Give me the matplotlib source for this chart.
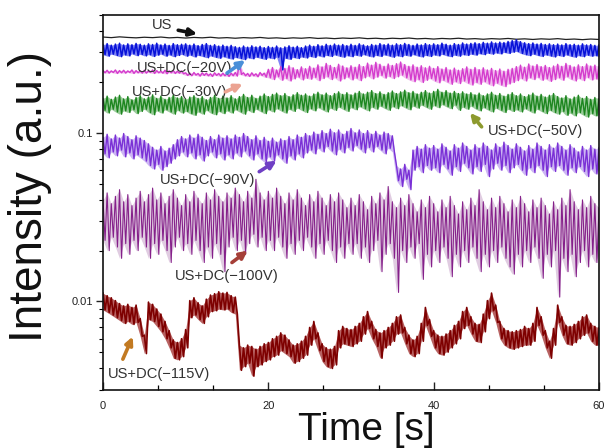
import numpy as np
import matplotlib
matplotlib.use("Agg")
import matplotlib.pyplot as plt
from matplotlib.ticker import FixedLocator, MultipleLocator, LogLocator, NullFormatter

plt.rcParams['font.family'] = ['Liberation Sans', 'DejaVu Sans']

# ---------------- data (intensity, a.u.) ----------------
# US: single trace, one value per second
us = [0.370, 0.367, 0.371, 0.368, 0.366, 0.369, 0.367, 0.370, 0.366, 0.368, 0.365, 0.368, 0.366, 0.369, 0.365,
      0.367, 0.364, 0.367, 0.365, 0.368, 0.364, 0.366, 0.363, 0.366, 0.364, 0.367, 0.363, 0.365, 0.362, 0.365,
      0.363, 0.366, 0.362, 0.364, 0.361, 0.364, 0.362, 0.365, 0.361, 0.363, 0.360, 0.363, 0.361, 0.364, 0.360,
      0.362, 0.359, 0.362, 0.360, 0.363, 0.359, 0.361, 0.358, 0.361, 0.359, 0.362, 0.358, 0.360, 0.357, 0.360, 0.358]

# noisy traces: local maxima (hi) and minima (lo) read every 0.5 s
dc20_hi = [0.334, 0.338, 0.331, 0.336, 0.340, 0.332, 0.337, 0.333, 0.339, 0.335,
           0.331, 0.337, 0.334, 0.340, 0.332, 0.336, 0.330, 0.338, 0.333, 0.335,
           0.337, 0.331, 0.336, 0.329, 0.334, 0.338, 0.330, 0.333, 0.327, 0.331,
           0.326, 0.330, 0.324, 0.321, 0.327, 0.322, 0.328, 0.323, 0.326, 0.320,
           0.325, 0.321, 0.327, 0.319, 0.323, 0.328, 0.322, 0.326, 0.320, 0.327,
           0.331, 0.326, 0.333, 0.328, 0.335, 0.330, 0.336, 0.331, 0.334, 0.329,
           0.335, 0.330, 0.337, 0.332, 0.328, 0.334, 0.331, 0.338, 0.333, 0.336,
           0.331, 0.337, 0.333, 0.339, 0.334, 0.330, 0.336, 0.332, 0.338, 0.333,
           0.337, 0.333, 0.340, 0.335, 0.331, 0.338, 0.334, 0.341, 0.336, 0.339,
           0.342, 0.338, 0.344, 0.340, 0.346, 0.341, 0.345, 0.343, 0.348, 0.352,
           0.356, 0.347, 0.342, 0.338, 0.341, 0.336, 0.339, 0.334, 0.337, 0.333,
           0.336, 0.332, 0.338, 0.333, 0.335, 0.331, 0.337, 0.332, 0.334, 0.330,
           0.333]
dc20_lo = [0.291, 0.285, 0.293, 0.288, 0.283, 0.290, 0.286, 0.294, 0.287, 0.292,
           0.286, 0.291, 0.284, 0.289, 0.293, 0.285, 0.290, 0.283, 0.288, 0.292,
           0.285, 0.289, 0.282, 0.288, 0.284, 0.279, 0.286, 0.281, 0.277, 0.283,
           0.278, 0.274, 0.280, 0.276, 0.272, 0.279, 0.275, 0.281, 0.277, 0.273,
           0.279, 0.275, 0.281, 0.236, 0.277, 0.273, 0.280, 0.276, 0.282, 0.278,
           0.284, 0.280, 0.287, 0.282, 0.288, 0.284, 0.290, 0.285, 0.281, 0.287,
           0.283, 0.289, 0.285, 0.291, 0.286, 0.282, 0.288, 0.284, 0.290, 0.286,
           0.281, 0.287, 0.283, 0.289, 0.285, 0.291, 0.286, 0.282, 0.288, 0.284,
           0.290, 0.286, 0.292, 0.287, 0.283, 0.289, 0.285, 0.291, 0.288, 0.293,
           0.289, 0.295, 0.291, 0.297, 0.293, 0.298, 0.294, 0.300, 0.296, 0.301,
           0.304, 0.296, 0.291, 0.287, 0.293, 0.288, 0.284, 0.290, 0.286, 0.282,
           0.288, 0.284, 0.290, 0.285, 0.281, 0.287, 0.283, 0.289, 0.285, 0.287,
           0.284]

dc30_hi = [0.234, 0.235, 0.233, 0.236, 0.234, 0.235, 0.233, 0.236, 0.234, 0.233,
           0.235, 0.233, 0.236, 0.234, 0.232, 0.235, 0.233, 0.234, 0.232, 0.233,
           0.227, 0.226, 0.228, 0.225, 0.227, 0.226, 0.224, 0.227, 0.225, 0.226,
           0.224, 0.226, 0.228, 0.262, 0.227, 0.225, 0.227, 0.224, 0.228, 0.226,
           0.238, 0.244, 0.236, 0.247, 0.241, 0.250, 0.243, 0.237, 0.246, 0.240,
           0.248, 0.242, 0.253, 0.246, 0.258, 0.251, 0.244, 0.255, 0.249, 0.243,
           0.250, 0.245, 0.254, 0.247, 0.259, 0.252, 0.262, 0.255, 0.248, 0.256,
           0.251, 0.257, 0.263, 0.254, 0.248, 0.253, 0.245, 0.250, 0.243, 0.248,
           0.241, 0.247, 0.239, 0.244, 0.236, 0.242, 0.235, 0.240, 0.246, 0.238,
           0.244, 0.237, 0.243, 0.236, 0.241, 0.234, 0.239, 0.232, 0.238, 0.241,
           0.247, 0.252, 0.245, 0.256, 0.249, 0.254, 0.247, 0.251, 0.244, 0.249,
           0.255, 0.248, 0.258, 0.251, 0.246, 0.253, 0.247, 0.256, 0.249, 0.252,
           0.248]
dc30_lo = [0.227, 0.226, 0.228, 0.225, 0.227, 0.226, 0.228, 0.225, 0.227, 0.226,
           0.226, 0.228, 0.225, 0.227, 0.226, 0.224, 0.227, 0.225, 0.226, 0.224,
           0.219, 0.218, 0.220, 0.217, 0.219, 0.218, 0.216, 0.219, 0.217, 0.218,
           0.216, 0.218, 0.217, 0.222, 0.218, 0.216, 0.218, 0.215, 0.219, 0.214,
           0.212, 0.207, 0.215, 0.205, 0.210, 0.203, 0.209, 0.214, 0.206, 0.211,
           0.208, 0.213, 0.204, 0.210, 0.215, 0.207, 0.212, 0.203, 0.209, 0.214,
           0.206, 0.211, 0.204, 0.212, 0.217, 0.209, 0.214, 0.219, 0.211, 0.216,
           0.210, 0.215, 0.220, 0.212, 0.206, 0.201, 0.207, 0.199, 0.205, 0.210,
           0.203, 0.198, 0.205, 0.200, 0.194, 0.201, 0.196, 0.203, 0.197, 0.192,
           0.199, 0.194, 0.201, 0.195, 0.190, 0.197, 0.192, 0.188, 0.195, 0.199,
           0.204, 0.210, 0.203, 0.212, 0.207, 0.213, 0.205, 0.209, 0.202, 0.207,
           0.212, 0.205, 0.215, 0.208, 0.203, 0.210, 0.204, 0.213, 0.206, 0.209,
           0.205]

dc50_hi = [0.160, 0.165, 0.158, 0.163, 0.167, 0.159, 0.164, 0.157, 0.162, 0.166,
           0.159, 0.163, 0.168, 0.160, 0.165, 0.158, 0.162, 0.167, 0.161, 0.164,
           0.158, 0.163, 0.166, 0.160, 0.164, 0.157, 0.162, 0.167, 0.160, 0.165,
           0.161, 0.166, 0.159, 0.164, 0.169, 0.162, 0.167, 0.160, 0.165, 0.170,
           0.164, 0.169, 0.172, 0.166, 0.171, 0.164, 0.168, 0.173, 0.167, 0.170,
           0.165, 0.170, 0.174, 0.168, 0.172, 0.166, 0.171, 0.175, 0.169, 0.173,
           0.168, 0.172, 0.176, 0.170, 0.174, 0.178, 0.171, 0.175, 0.169, 0.173,
           0.177, 0.171, 0.175, 0.179, 0.173, 0.176, 0.170, 0.174, 0.178, 0.172,
           0.176, 0.181, 0.174, 0.178, 0.172, 0.176, 0.171, 0.175, 0.170, 0.173,
           0.168, 0.172, 0.166, 0.170, 0.174, 0.167, 0.171, 0.165, 0.169, 0.173,
           0.166, 0.170, 0.164, 0.168, 0.172, 0.165, 0.169, 0.163, 0.167, 0.171,
           0.164, 0.161, 0.166, 0.159, 0.163, 0.167, 0.160, 0.164, 0.158, 0.162,
           0.160]
dc50_lo = [0.136, 0.131, 0.138, 0.133, 0.129, 0.135, 0.132, 0.137, 0.130, 0.134,
           0.138, 0.132, 0.128, 0.135, 0.131, 0.137, 0.133, 0.129, 0.136, 0.131,
           0.134, 0.130, 0.127, 0.133, 0.129, 0.136, 0.131, 0.128, 0.134, 0.130,
           0.135, 0.131, 0.137, 0.133, 0.129, 0.136, 0.132, 0.138, 0.134, 0.130,
           0.137, 0.133, 0.139, 0.135, 0.131, 0.138, 0.134, 0.140, 0.136, 0.132,
           0.139, 0.135, 0.141, 0.137, 0.133, 0.140, 0.136, 0.142, 0.138, 0.134,
           0.141, 0.137, 0.143, 0.139, 0.135, 0.142, 0.138, 0.144, 0.140, 0.136,
           0.143, 0.139, 0.145, 0.141, 0.137, 0.144, 0.140, 0.146, 0.142, 0.138,
           0.145, 0.141, 0.147, 0.143, 0.139, 0.146, 0.136, 0.142, 0.138, 0.144,
           0.139, 0.135, 0.141, 0.137, 0.133, 0.140, 0.136, 0.132, 0.138, 0.134,
           0.137, 0.133, 0.139, 0.135, 0.131, 0.138, 0.134, 0.130, 0.136, 0.132,
           0.129, 0.134, 0.127, 0.131, 0.126, 0.132, 0.128, 0.124, 0.130, 0.126,
           0.128]

dc90_hi = [0.094, 0.098, 0.092, 0.097, 0.093, 0.099, 0.095, 0.091, 0.096, 0.093,
           0.090, 0.086, 0.082, 0.079, 0.083, 0.078, 0.081, 0.085, 0.091, 0.095,
           0.092, 0.097, 0.093, 0.098, 0.094, 0.090, 0.095, 0.091, 0.097, 0.093,
           0.096, 0.092, 0.097, 0.094, 0.099, 0.095, 0.091, 0.096, 0.090, 0.094,
           0.089, 0.093, 0.088, 0.092, 0.090, 0.095, 0.091, 0.097, 0.094, 0.099,
           0.096, 0.101, 0.098, 0.103, 0.099, 0.105, 0.100, 0.104, 0.098, 0.102,
           0.106, 0.100, 0.104, 0.099, 0.103, 0.098, 0.102, 0.097, 0.101, 0.099,
           0.096, 0.064, 0.061, 0.065, 0.060, 0.079, 0.083, 0.080, 0.085, 0.081,
           0.084, 0.080, 0.086, 0.082, 0.078, 0.085, 0.081, 0.087, 0.083, 0.079,
           0.085, 0.081, 0.087, 0.083, 0.079, 0.086, 0.082, 0.088, 0.084, 0.080,
           0.086, 0.082, 0.078, 0.084, 0.080, 0.087, 0.083, 0.079, 0.085, 0.081,
           0.087, 0.083, 0.079, 0.085, 0.081, 0.077, 0.083, 0.079, 0.084, 0.080,
           0.082]
dc90_lo = [0.075, 0.071, 0.077, 0.073, 0.079, 0.072, 0.076, 0.070, 0.074, 0.071,
           0.068, 0.064, 0.061, 0.065, 0.060, 0.063, 0.066, 0.070, 0.073, 0.077,
           0.072, 0.076, 0.070, 0.074, 0.068, 0.073, 0.077, 0.071, 0.075, 0.069,
           0.074, 0.070, 0.076, 0.072, 0.078, 0.073, 0.069, 0.075, 0.070, 0.067,
           0.072, 0.068, 0.074, 0.070, 0.066, 0.073, 0.069, 0.075, 0.071, 0.076,
           0.079, 0.075, 0.081, 0.077, 0.083, 0.078, 0.074, 0.080, 0.076, 0.082,
           0.078, 0.084, 0.080, 0.076, 0.082, 0.077, 0.083, 0.079, 0.075, 0.081,
           0.077, 0.052, 0.048, 0.053, 0.046, 0.060, 0.063, 0.058, 0.064, 0.060,
           0.062, 0.058, 0.065, 0.061, 0.056, 0.063, 0.059, 0.066, 0.062, 0.057,
           0.063, 0.059, 0.065, 0.055, 0.061, 0.066, 0.060, 0.064, 0.058, 0.062,
           0.065, 0.060, 0.056, 0.062, 0.058, 0.064, 0.060, 0.055, 0.063, 0.059,
           0.064, 0.060, 0.056, 0.062, 0.058, 0.063, 0.059, 0.055, 0.061, 0.057,
           0.060]

dc100_hi = [0.040, 0.044, 0.038, 0.042, 0.046, 0.039, 0.043, 0.037, 0.041, 0.045,
            0.039, 0.043, 0.047, 0.040, 0.044, 0.038, 0.042, 0.046, 0.041, 0.037,
            0.043, 0.039, 0.045, 0.041, 0.038, 0.044, 0.040, 0.046, 0.042, 0.039,
            0.044, 0.041, 0.047, 0.043, 0.039, 0.045, 0.041, 0.053, 0.044, 0.040,
            0.045, 0.041, 0.047, 0.042, 0.038, 0.044, 0.040, 0.046, 0.041, 0.037,
            0.043, 0.039, 0.045, 0.041, 0.037, 0.043, 0.039, 0.044, 0.040, 0.036,
            0.041, 0.037, 0.043, 0.039, 0.035, 0.042, 0.038, 0.044, 0.040, 0.048,
            0.039, 0.036, 0.041, 0.037, 0.043, 0.038, 0.034, 0.040, 0.036, 0.042,
            0.038, 0.034, 0.040, 0.036, 0.042, 0.037, 0.033, 0.039, 0.035, 0.041,
            0.037, 0.046, 0.039, 0.035, 0.041, 0.036, 0.042, 0.038, 0.034, 0.040,
            0.036, 0.042, 0.038, 0.034, 0.040, 0.036, 0.041, 0.037, 0.033, 0.039,
            0.035, 0.041, 0.037, 0.046, 0.039, 0.035, 0.040, 0.036, 0.042, 0.038,
            0.036]
dc100_lo = [0.023, 0.020, 0.024, 0.021, 0.018, 0.022, 0.019, 0.023, 0.020, 0.024,
            0.021, 0.018, 0.022, 0.019, 0.023, 0.020, 0.017, 0.021, 0.024, 0.020,
            0.022, 0.019, 0.023, 0.020, 0.017, 0.021, 0.018, 0.022, 0.019, 0.015,
            0.021, 0.024, 0.020, 0.023, 0.019, 0.022, 0.025, 0.021, 0.024, 0.020,
            0.023, 0.020, 0.024, 0.021, 0.018, 0.022, 0.019, 0.023, 0.020, 0.024,
            0.021, 0.018, 0.022, 0.019, 0.023, 0.020, 0.017, 0.021, 0.018, 0.022,
            0.019, 0.022, 0.018, 0.021, 0.017, 0.020, 0.023, 0.015, 0.019, 0.022,
            0.018, 0.0113, 0.020, 0.017, 0.021, 0.018, 0.022, 0.0135, 0.019, 0.016,
            0.020, 0.017, 0.021, 0.018, 0.0140, 0.019, 0.016, 0.020, 0.017, 0.021,
            0.018, 0.015, 0.019, 0.016, 0.020, 0.017, 0.021, 0.018, 0.016, 0.0145,
            0.019, 0.016, 0.020, 0.017, 0.021, 0.018, 0.0137, 0.019, 0.016, 0.020,
            0.0106, 0.018, 0.015, 0.019, 0.0140, 0.017, 0.020, 0.016, 0.019, 0.017,
            0.019]

dc115_hi = [0.0112, 0.0108, 0.0105, 0.0101, 0.0097, 0.0094, 0.0096, 0.0092, 0.0095, 0.0079,
            0.0063, 0.0099, 0.0096, 0.0090, 0.0084, 0.0076, 0.0067, 0.0059, 0.0057, 0.0060,
            0.0068, 0.0101, 0.0105, 0.0098, 0.0094, 0.0103, 0.0109, 0.0111, 0.0114, 0.0112,
            0.0113, 0.0108, 0.0106, 0.0055, 0.0053, 0.0055, 0.0054, 0.0052, 0.0054, 0.0056,
            0.0057, 0.0060, 0.0062, 0.0065, 0.0063, 0.0059, 0.0055, 0.0056, 0.0058, 0.0062,
            0.0070, 0.0076, 0.0065, 0.0056, 0.0053, 0.0052, 0.0054, 0.0067, 0.0071, 0.0069,
            0.0068, 0.0071, 0.0074, 0.0081, 0.0087, 0.0076, 0.0068, 0.0065, 0.0067, 0.0070,
            0.0074, 0.0081, 0.0083, 0.0070, 0.0063, 0.0059, 0.0062, 0.0074, 0.0092, 0.0078,
            0.0067, 0.0063, 0.0062, 0.0064, 0.0067, 0.0072, 0.0076, 0.0087, 0.0092, 0.0081,
            0.0074, 0.0073, 0.0084, 0.0101, 0.0112, 0.0095, 0.0076, 0.0069, 0.0067, 0.0066,
            0.0067, 0.0068, 0.0071, 0.0069, 0.0074, 0.0092, 0.0081, 0.0067, 0.0058, 0.0069,
            0.0095, 0.0081, 0.0072, 0.0071, 0.0073, 0.0076, 0.0081, 0.0083, 0.0074, 0.0071,
            0.0070]
dc115_lo = [0.0089, 0.0086, 0.0083, 0.0080, 0.0077, 0.0074, 0.0076, 0.0073, 0.0075, 0.0062,
            0.0049, 0.0078, 0.0076, 0.0071, 0.0066, 0.0060, 0.0053, 0.0046, 0.0045, 0.0047,
            0.0053, 0.0080, 0.0083, 0.0078, 0.0074, 0.0081, 0.0087, 0.0088, 0.0090, 0.0089,
            0.0090, 0.0086, 0.0084, 0.0039, 0.0041, 0.0043, 0.0036, 0.0041, 0.0042, 0.0044,
            0.0045, 0.0047, 0.0048, 0.0051, 0.0049, 0.0047, 0.0043, 0.0044, 0.0046, 0.0048,
            0.0055, 0.0060, 0.0051, 0.0044, 0.0041, 0.0040, 0.0042, 0.0053, 0.0056, 0.0055,
            0.0054, 0.0056, 0.0058, 0.0064, 0.0069, 0.0060, 0.0054, 0.0046, 0.0053, 0.0055,
            0.0058, 0.0064, 0.0065, 0.0056, 0.0049, 0.0047, 0.0049, 0.0058, 0.0072, 0.0062,
            0.0053, 0.0049, 0.0048, 0.0050, 0.0053, 0.0056, 0.0060, 0.0069, 0.0072, 0.0064,
            0.0058, 0.0057, 0.0066, 0.0079, 0.0088, 0.0075, 0.0060, 0.0055, 0.0053, 0.0052,
            0.0053, 0.0054, 0.0055, 0.0055, 0.0058, 0.0072, 0.0063, 0.0053, 0.0046, 0.0055,
            0.0075, 0.0063, 0.0056, 0.0055, 0.0057, 0.0060, 0.0063, 0.0065, 0.0058, 0.0055,
            0.0055]

x_ticks = [0, 20, 40, 60]
x_tick_labels = ["0", "20", "40", "60"]
y_ticks = [0.01, 0.1]
y_tick_labels = ["0.01", "0.1"]

labels = ["US", "US+DC(\u221220V)", "US+DC(\u221230V)", "US+DC(\u221250V)",
          "US+DC(\u221290V)", "US+DC(\u2212100V)", "US+DC(\u2212115V)"]
label_pos = [(5.9, 0.436), (4.1, 0.243), (3.5, 0.175), (46.6, 0.1025),
             (6.9, 0.0527), (8.7, 0.0141), (0.6, 0.0037)]
arrow_tail = [(9.1, 0.406), (15.0, 0.226), (14.8, 0.175), (45.8, 0.1085),
              (18.9, 0.0588), (15.6, 0.0170), (2.4, 0.00454)]
arrow_head = [(11.4, 0.386), (17.2, 0.270), (16.9, 0.195), (44.4, 0.1313),
              (21.0, 0.0683), (17.5, 0.0200), (3.6, 0.00618)]
arrow_colors = ["#111111", "#4a8fd8", "#eba392", "#8d9a2e", "#6f3fc4", "#a53f38", "#c27a22"]

# ---------------- figure ----------------
fig = plt.figure(figsize=(6.04, 4.48), dpi=100)
ax = fig.add_axes([103 / 604, 1 - 389.5 / 448, 496 / 604, 374.5 / 448])


def band_trace(hi, lo, fill_color, line_color, lw, fill_alpha):
    t = np.linspace(0, 60, len(hi))
    x = np.empty(2 * len(hi))
    y = np.empty(2 * len(hi))
    x[0::2] = t
    x[1::2] = t + 0.25
    y[0::2] = hi
    y[1::2] = lo
    ax.fill_between(t, lo, hi, color=fill_color, alpha=fill_alpha, lw=0)
    ax.plot(x, y, color=line_color, lw=lw)


ax.plot(np.linspace(0, 60, len(us)), us, color="#222222", lw=0.9)
band_trace(dc20_hi, dc20_lo, "#2a32ee", "#0812d8", 1.1, 0.6)
band_trace(dc30_hi, dc30_lo, "#e683e0", "#d43ccd", 1.0, 0.5)
band_trace(dc50_hi, dc50_lo, "#4aa24a", "#1d861f", 1.0, 0.55)
band_trace(dc90_hi, dc90_lo, "#9c6ee8", "#7a30d6", 1.0, 0.5)
band_trace(dc100_hi, dc100_lo, "#c39ac5", "#85208a", 0.8, 0.5)
band_trace(dc115_hi, dc115_lo, "#9a2020", "#7e0000", 1.2, 0.7)

ax.set_yscale("log")
ax.set_xlim(0, 60)
ax.set_ylim(0.003, 0.5)

ax.xaxis.set_major_locator(FixedLocator(x_ticks))
ax.set_xticklabels(x_tick_labels)
ax.xaxis.set_minor_locator(MultipleLocator(20 / 3))
ax.yaxis.set_major_locator(FixedLocator(y_ticks))
ax.set_yticklabels(y_tick_labels)
ax.yaxis.set_minor_locator(LogLocator(base=10, subs=(2, 3, 4, 5, 6, 7, 8, 9)))
ax.yaxis.set_minor_formatter(NullFormatter())

ax.tick_params(axis="x", which="major", direction="in", length=6, width=1.0, labelsize=8, pad=8, colors="#222222")
ax.tick_params(axis="x", which="minor", direction="in", length=3.5, width=0.9)
ax.tick_params(axis="y", which="major", direction="out", length=5, width=1.0, labelsize=8, pad=2, colors="#222222")
ax.tick_params(axis="y", which="minor", direction="out", length=3, width=0.8)
for s in ax.spines.values():
    s.set_linewidth(1.2)
    s.set_color("#111111")

for txt, (tx, ty) in zip(labels, label_pos):
    ax.text(tx, ty, txt, fontsize=10.6, color="#333333", ha="left", va="center")

for (x0, y0), (x1, y1), c in zip(arrow_tail, arrow_head, arrow_colors):
    ax.annotate("", xy=(x1, y1), xytext=(x0, y0),
                arrowprops=dict(arrowstyle="-|>", color=c, lw=2.6, mutation_scale=11,
                                shrinkA=0, shrinkB=0))

fig.text(30 / 604, 1 - 197 / 448, "Intensity (a.u.)", rotation=90, fontsize=33,
         ha="center", va="center", color="#111111")
fig.text(366 / 604, 1 - 440 / 448, "Time [s]", fontsize=28, ha="center", va="baseline",
         color="#111111")

fig.savefig("out.png", dpi=100)
